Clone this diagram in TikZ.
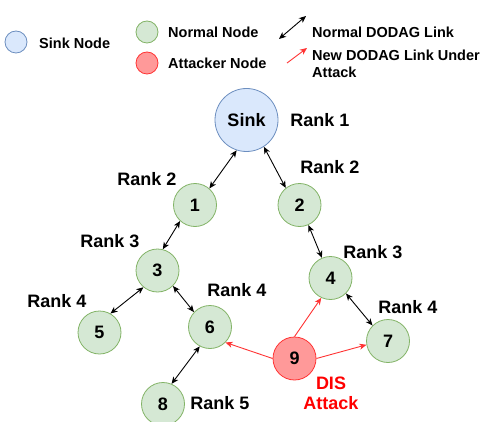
\documentclass[tikz,border=0pt]{standalone}
\usepackage{fontspec}
\setmainfont{Liberation Sans}
\usetikzlibrary{arrows.meta}
\definecolor{sinkfill}{HTML}{DAE8FC}
\definecolor{sinkline}{HTML}{6C8EBF}
\definecolor{nodefill}{HTML}{D5E8D4}
\definecolor{nodeline}{HTML}{82B366}
\definecolor{attfill}{HTML}{FF9999}
\definecolor{attline}{HTML}{FF3333}
\definecolor{attarrow}{HTML}{FF3333}
\definecolor{atttext}{HTML}{FF0000}
\tikzset{
  ctip/.tip={Stealth[length=7pt,width=6pt,inset=2pt]},
  base/.style={circle,inner sep=0pt,line width=0.8pt,font=\fontsize{18}{21}\selectfont\bfseries},
  sinknode/.style={base,fill=sinkfill,draw=sinkline,minimum size=63pt},
  normalnode/.style={base,fill=nodefill,draw=nodeline,minimum size=43pt},
  attnode/.style={base,fill=attfill,draw=attline,minimum size=43pt},
  legendsink/.style={circle,inner sep=0pt,line width=0.8pt,minimum size=22pt,fill=sinkfill,draw=sinkline},
  legendnormal/.style={circle,inner sep=0pt,line width=0.8pt,minimum size=22pt,fill=nodefill,draw=nodeline},
  legendatt/.style={circle,inner sep=0pt,line width=0.8pt,minimum size=22pt,fill=attfill,draw=attline},
  legendtext/.style={anchor=west,inner sep=0pt,align=left,font=\fontsize{14.5}{17}\selectfont\bfseries},
  ranklabel/.style={inner sep=0pt,font=\fontsize{18}{21}\selectfont\bfseries},
  link/.style={ctip-ctip,line width=0.9pt,black},
  attlink/.style={-ctip,line width=0.9pt,attarrow},
}
\begin{document}
\begin{tikzpicture}[x=1pt,y=-1pt]
\useasboundingbox (0,0) rectangle (481,422);

% legend
\node[legendsink] (lsink) at (16,42) {};
\node[legendtext] (lsinktxt) at (39,43) {Sink Node};
\node[legendnormal] (lnormal) at (147,32) {};
\node[legendtext] (lnormaltxt) at (168,32) {Normal Node};
\node[legendatt] (latt) at (147,63) {};
\node[legendtext] (latttxt) at (168,63) {Attacker Node};
\coordinate (lk1) at (279,39);
\coordinate (lk2) at (306,16);
\draw[link] (lk1) -- (lk2);
\node[legendtext] (llinktxt) at (312,32) {Normal DODAG Link};
\coordinate (la1) at (287,63);
\coordinate (la2) at (307,48);
\draw[attlink] (la1) -- (la2);
\node[legendtext] (lnewtxt) at (312,63.5) {New DODAG Link Under\\Attack};

% network nodes
\node[sinknode] (sink) at (246.5,120) {Sink};
\node[normalnode] (n1) at (195,205) {1};
\node[normalnode] (n2) at (299.5,205) {2};
\node[normalnode] (n3) at (157.5,270.5) {3};
\node[normalnode] (n4) at (330.5,278) {4};
\node[normalnode] (n5) at (99.5,332.5) {5};
\node[normalnode] (n6) at (210,327) {6};
\node[normalnode] (n7) at (388,341) {7};
\node[normalnode] (n8) at (163,404) {8};
\node[attnode] (n9) at (294.5,358.5) {9};

% rank labels
\node[ranklabel] (r1) at (320,120) {Rank 1};
\node[ranklabel] (r2a) at (147,179) {Rank 2};
\node[ranklabel] (r2b) at (330,167) {Rank 2};
\node[ranklabel] (r3a) at (110,241) {Rank 3};
\node[ranklabel] (r3b) at (373,252) {Rank 3};
\node[ranklabel] (r4a) at (57,301) {Rank 4};
\node[ranklabel] (r4b) at (237,290) {Rank 4};
\node[ranklabel] (r4c) at (408,307) {Rank 4};
\node[ranklabel] (r5) at (220,403) {Rank 5};
\node[ranklabel,text=atttext,align=center,font=\fontsize{18}{20}\selectfont\bfseries] (dis) at (331,393) {DIS\\Attack};

% DODAG links
\draw[link] (sink.252) -- (n1.49);
\draw[link] (sink.303) -- (n2.129);
\draw[link] (n1.227) -- (n3.76);
\draw[link] (n2.294) -- (n4.113);
\draw[link] (n3.230) -- (n5.60);
\draw[link] (n3.-45) -- (n6.137);
\draw[link] (n6.242) -- (n8.67);
\draw[link] (n4.-45) -- (n7.135);

% links created by the attacker
\draw[attlink] (n9.north) -- (n4.245);
\draw[attlink] (n9.east) -- (n7.190);
\draw[attlink] (n9.west) -- (n6.-45);
\end{tikzpicture}
\end{document}
